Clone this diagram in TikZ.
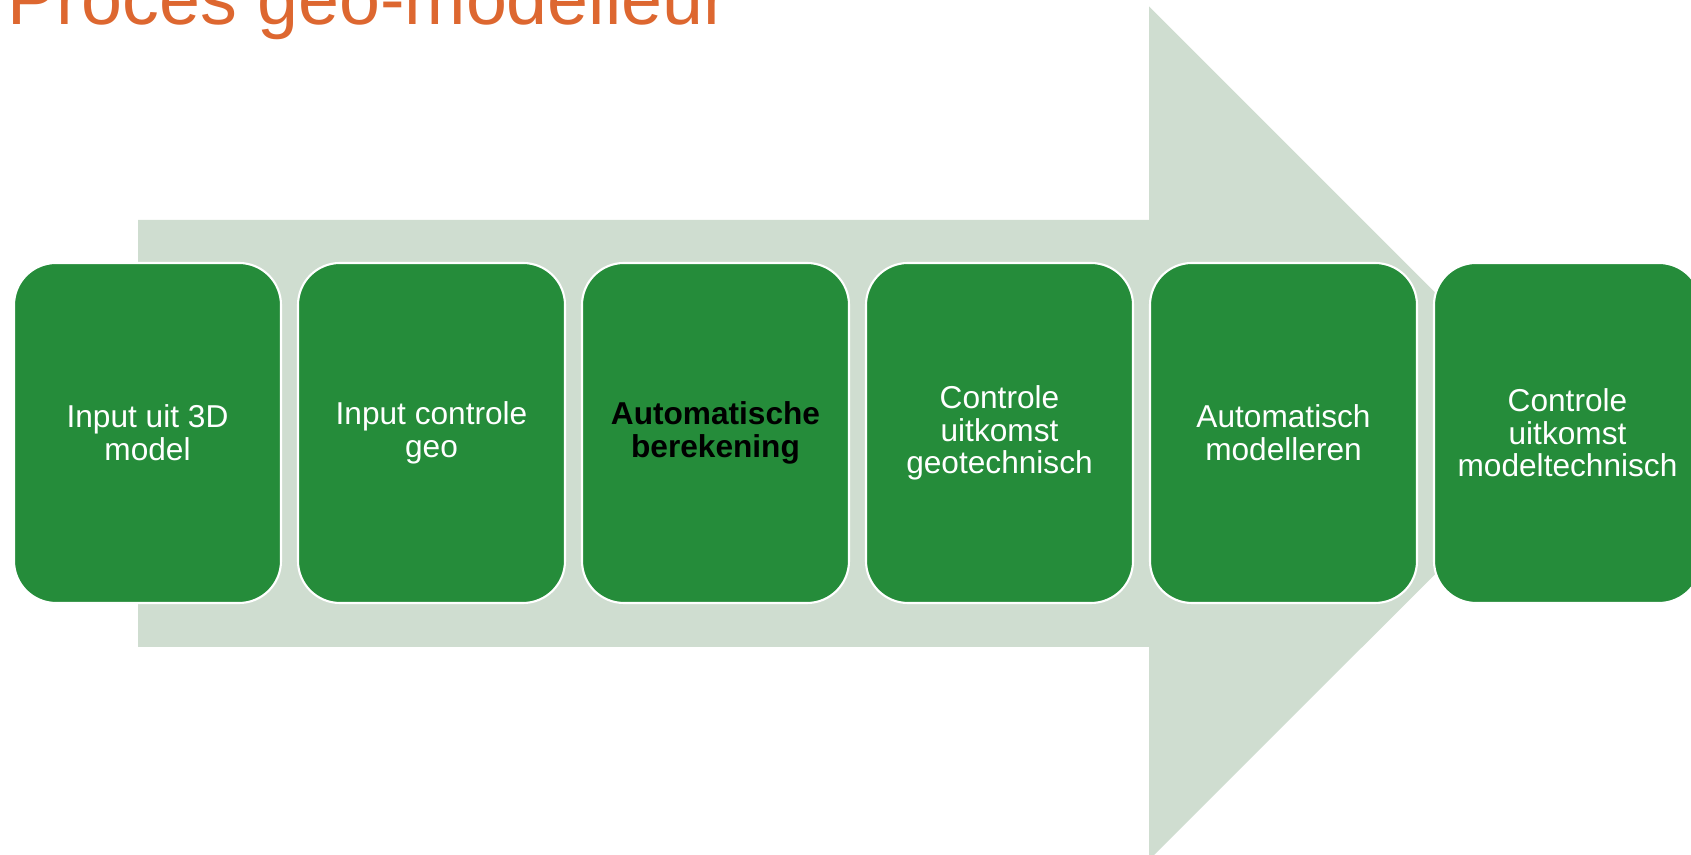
\documentclass[tikz,border=0pt]{standalone}
\usepackage{fontspec}
\setmainfont{Liberation Sans}
\usepackage{xcolor}
\usepackage{tikz}
\definecolor{stepgreen}{HTML}{258C3A}
\definecolor{arrowgray}{HTML}{CFDDD0}
\definecolor{titleorange}{HTML}{DD6730}
\tikzset{stepbox/.style={draw=white,line width=1.2pt,fill=stepgreen,rounded corners=0.84cm,minimum width=5.34cm,minimum height=6.8cm,inner sep=2pt,align=center,text=white,font=\fontsize{18}{18.55}\selectfont}}

\begin{document}
\begin{tikzpicture}
    \useasboundingbox (0,0) rectangle (33.82,17.1);

    % big background arrow
    \fill[arrowgray] (2.76,4.16) -- (2.76,12.70) -- (22.98,12.70) -- (22.98,16.97)
      -- (31.52,8.43) -- (22.98,-0.10) -- (22.98,4.16) -- cycle;

    \node[anchor=base west,inner sep=0pt,text=titleorange,font=\fontsize{41.9}{44}\selectfont] (title) at (0.15,16.6) {Proces geo-modelleur};

    \node[stepbox] (s1) at (2.95,8.44) {Input uit 3D\\model};
    \node[stepbox] (s2) at (8.63,8.44) {Input controle\\geo};
    \node[stepbox,text=black,font=\fontsize{18}{18.55}\selectfont\bfseries] (s3) at (14.31,8.44) {Automatische\\berekening};
    \node[stepbox] (s4) at (19.99,8.44) {Controle\\uitkomst\\geotechnisch};
    \node[stepbox] (s5) at (25.67,8.44) {Automatisch\\modelleren};
    \node[stepbox] (s6) at (31.35,8.44) {Controle\\uitkomst\\modeltechnisch};
\end{tikzpicture}
\end{document}
